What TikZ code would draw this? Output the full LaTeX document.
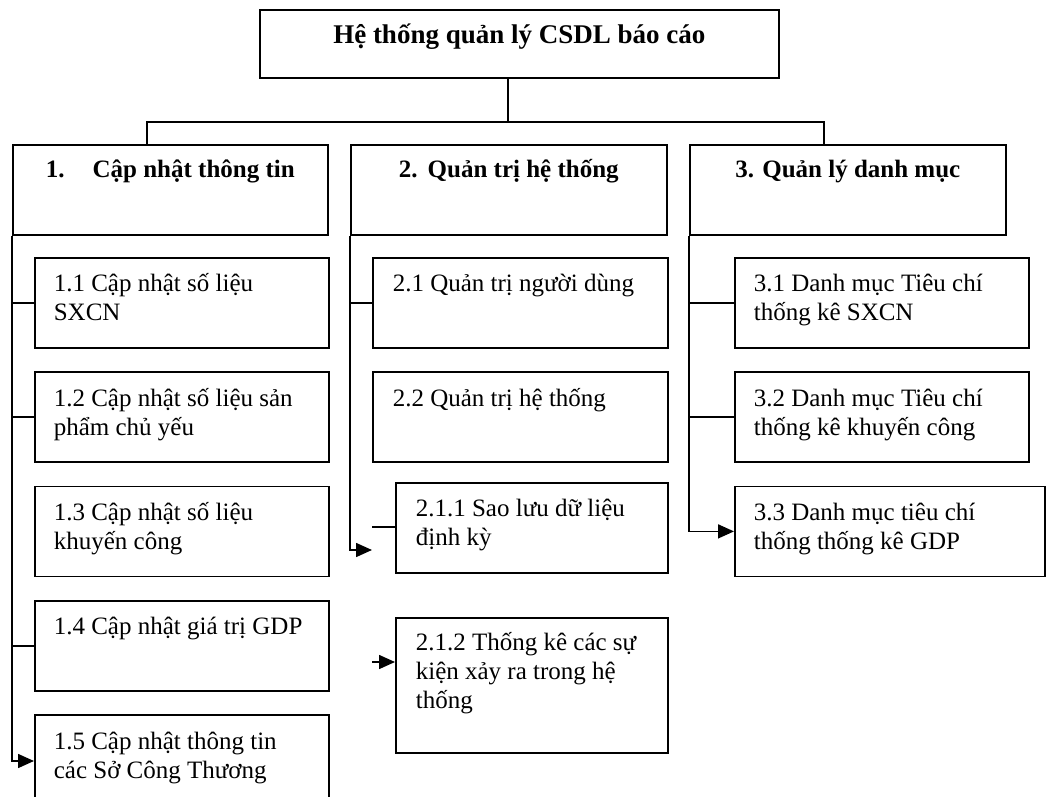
\documentclass[tikz,border=0pt]{standalone}
\usepackage{fontspec}
\setmainfont{Liberation Serif}
\usetikzlibrary{positioning, arrows.meta}

\newcommand{\hautligne}{\rule{0pt}{25pt}}

\tikzset{
	boite/.style={draw, rectangle, inner sep=0pt, anchor=north west},
	texte/.style={anchor=north west, inner sep=0pt, align=left, font=\fontsize{25pt}{29pt}\selectfont},
	gras/.style={anchor=base, inner sep=0pt, font=\bfseries\fontsize{25pt}{29pt}\selectfont},
	fleche/.style={-{Triangle[length=16pt,width=14pt]}}
}

\begin{document}
\begin{tikzpicture}[x=1pt, y=-1pt, line width=1.6pt]
		\useasboundingbox (0,0) rectangle (1047,797);
		
		%racine
		\node[boite, minimum width=519pt, minimum height=68pt] (racine) at (259,9) {};
		\node[gras, font=\bfseries\fontsize{27pt}{31pt}\selectfont] (tracine) at ([yshift=-35pt]racine.north) {Hệ thống quản lý CSDL báo cáo};
		
		%niveau 1
		\node[boite, minimum width=315pt, minimum height=90pt] (c1) at (12,144) {};
		\node[boite, minimum width=316pt, minimum height=90pt] (c2) at (350,144) {};
		\node[boite, minimum width=316pt, minimum height=90pt] (c3) at (689,144) {};
		\node[gras] (tc1) at ([yshift=-34pt]c1.north) {1.\hspace{28pt}Cập nhật thông tin};
		\node[gras] (tc2) at ([yshift=-34pt]c2.north) {2.\hspace{10pt}Quản trị hệ thống};
		\node[gras] (tc3) at ([yshift=-34pt]c3.north) {3. Quản lý danh mục};
		
		\coordinate (j) at (508,122);
		\draw (racine.south -| j) -- (j);
		\draw ([xshift=135pt]c1.north west) |- (j) -| ([xshift=135pt]c3.north west);
		
		%colonne 1
		\node[boite, minimum width=294pt, minimum height=90pt] (b11) at (34,257) {};
		\node[boite, minimum width=294pt, minimum height=90pt, below=22.7pt of b11.south west, anchor=north west] (b12) {};
		\node[boite, minimum width=294pt, minimum height=90pt, below=22.7pt of b12.south west, anchor=north west] (b13) {};
		\node[boite, minimum width=294pt, minimum height=90pt, below=22.7pt of b13.south west, anchor=north west] (b14) {};
		\node[boite, minimum width=294pt, minimum height=92pt, below=22.7pt of b14.south west, anchor=north west] (b15) {};
		
		\node[texte] (t11) at ([xshift=19pt,yshift=-9pt]b11.north west) {\hautligne 1.1 Cập nhật số liệu\\SXCN};
		\node[texte] (t12) at ([xshift=19pt,yshift=-9pt]b12.north west) {\hautligne 1.2 Cập nhật số liệu sản\\phẩm chủ yếu};
		\node[texte] (t13) at ([xshift=19pt,yshift=-9pt]b13.north west) {\hautligne 1.3 Cập nhật số liệu\\khuyến công};
		\node[texte] (t14) at ([xshift=19pt,yshift=-9pt]b14.north west) {\hautligne 1.4 Cập nhật giá trị GDP};
		\node[texte] (t15) at ([xshift=19pt,yshift=-9pt]b15.north west) {\hautligne 1.5 Cập nhật thông tin\\các Sở Công Thương};
		
		\draw[fleche] (c1.south west) |- (b15.west);
		\draw (c1.south west |- b11.west) -- (b11.west);
		\draw (c1.south west |- b12.west) -- (b12.west);
		\draw (c1.south west |- b14.west) -- (b14.west);
		
		%colonne 2
		\node[boite, minimum width=295pt, minimum height=90pt] (b21) at (372,257) {};
		\node[boite, minimum width=295pt, minimum height=90pt, below=22.7pt of b21.south west, anchor=north west] (b22) {};
		\node[boite, minimum width=272pt, minimum height=90pt] (b211) at (395,482) {};
		\node[boite, minimum width=272pt, minimum height=135pt] (b212) at (395,617) {};
		
		\node[texte] (t21) at ([xshift=20pt,yshift=-9pt]b21.north west) {\hautligne 2.1 Quản trị người dùng};
		\node[texte] (t22) at ([xshift=20pt,yshift=-9pt]b22.north west) {\hautligne 2.2 Quản trị hệ thống};
		\node[texte] (t211) at ([xshift=20pt,yshift=-9pt]b211.north west) {\hautligne 2.1.1 Sao lưu dữ liệu\\định kỳ};
		\node[texte] (t212) at ([xshift=20pt,yshift=-8pt]b212.north west) {\hautligne 2.1.2 Thống kê các sự\\kiện xảy ra trong hệ\\thống};
		
		\coordinate (f2) at (372,550);
		\coordinate (g211) at (372,527);
		\coordinate (g212) at (372,662);
		\draw[fleche] (c2.south west) |- (f2);
		\draw (c2.south west |- b21.west) -- (b21.west);
		\draw (g211) -- (b211.west |- g211);
		\draw[fleche] (g212) -- (b212.west |- g212);
		
		%colonne 3
		\node[boite, minimum width=294pt, minimum height=90pt] (b31) at (734,257) {};
		\node[boite, minimum width=294pt, minimum height=90pt, below=22.7pt of b31.south west, anchor=north west] (b32) {};
		\node[boite, minimum width=310pt, minimum height=90pt, below=22.7pt of b32.south west, anchor=north west] (b33) {};
		
		\node[texte] (t31) at ([xshift=19pt,yshift=-9pt]b31.north west) {\hautligne 3.1 Danh mục Tiêu chí\\thống kê SXCN};
		\node[texte] (t32) at ([xshift=19pt,yshift=-9pt]b32.north west) {\hautligne 3.2 Danh mục Tiêu chí\\thống kê khuyến công};
		\node[texte] (t33) at ([xshift=19pt,yshift=-9pt]b33.north west) {\hautligne 3.3 Danh mục tiêu chí\\thống thống kê GDP};
		
		\draw[fleche] (c3.south west) |- (b33.west);
		\draw (c3.south west |- b31.west) -- (b31.west);
		\draw (c3.south west |- b32.west) -- (b32.west);
		
	\end{tikzpicture}
\end{document}
